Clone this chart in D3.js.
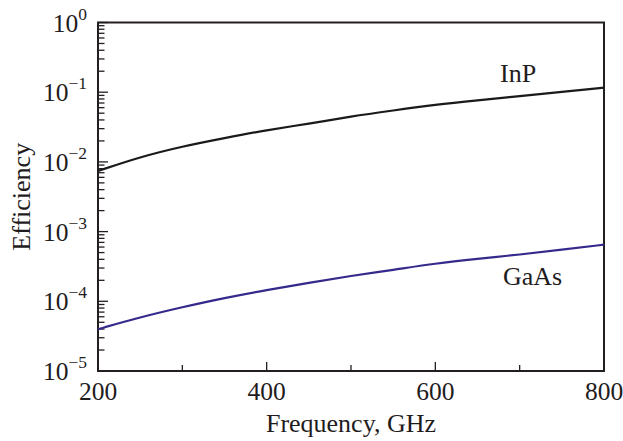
<!DOCTYPE html>
<html lang="en">
<head>
<meta charset="UTF-8">
<title>Efficiency vs Frequency</title>
<style>
  body { margin: 0; background: #fff; }
  text { font-family: "Liberation Serif", "Times New Roman", serif; fill: #1f1c1d; }
</style>
</head>
<body>
<svg id="chart" width="623" height="441"></svg>
<script src="https://cdnjs.cloudflare.com/ajax/libs/d3/7.8.5/d3.min.js"></script>
<script>
// data
const freq = [200, 250, 300, 350, 400, 450, 500, 550, 600, 650, 700, 750, 800];
const inp  = [7.4e-3, 1.18e-2, 1.67e-2, 2.2e-2, 2.86e-2, 3.53e-2, 4.49e-2, 5.46e-2, 6.62e-2, 7.66e-2, 8.79e-2, 1.01e-1, 1.16e-1];
const gaas = [3.98e-5, 5.92e-5, 8.24e-5, 1.12e-4, 1.45e-4, 1.84e-4, 2.32e-4, 2.82e-4, 3.49e-4, 4.07e-4, 4.68e-4, 5.5e-4, 6.49e-4];
const xTicks = [200, 400, 600, 800];
const xMinor = [300, 500, 700];
const yDecades = [0, -1, -2, -3, -4, -5];

const svg = d3.select('#chart');
const margin = {left: 98, right: 19, top: 22.5, bottom: 70};
const W = 623, H = 441;

const x = d3.scaleLinear().domain([200, 800]).range([margin.left, W - margin.right]);
const y = d3.scaleLog().domain([1e-5, 1]).range([H - margin.bottom, margin.top]);

const ink = '#231f20';

// inward ticks on the left axis
const g = svg.append('g');
yDecades.forEach(e => {
    for (let m = 1; m <= 9; m++) {
        const v = m * Math.pow(10, e);
        if (e === 0 && m > 1) continue;
        const yy = y(v);
        g.append('line')
            .attr('x1', x(200)).attr('x2', x(200) + (m === 1 ? 10 : 6.5))
            .attr('y1', yy).attr('y2', yy)
            .attr('stroke', ink).attr('stroke-width', 1.3);
    }
});

// inward ticks on the bottom axis
xTicks.concat(xMinor).forEach(t => {
    const major = xTicks.includes(t);
    g.append('line')
        .attr('x1', x(t)).attr('x2', x(t))
        .attr('y1', y(1e-5)).attr('y2', y(1e-5) - (major ? 9 : 6))
        .attr('stroke', ink).attr('stroke-width', 1.3);
});

// frame
svg.append('rect')
    .attr('x', x(200)).attr('y', y(1))
    .attr('width', x(800) - x(200)).attr('height', y(1e-5) - y(1))
    .attr('fill', 'none').attr('stroke', ink).attr('stroke-width', 2);

// curves (smoothed through the read points)
const line = (vals) => d3.line()
    .x((d, i) => x(freq[i]))
    .y(d => y(d))
    .curve(d3.curveBasis)(vals);

svg.append('path').attr('d', line(inp))
    .attr('fill', 'none').attr('stroke', '#1a1a1a').attr('stroke-width', 2.2);
svg.append('path').attr('d', line(gaas))
    .attr('fill', 'none').attr('stroke', '#352a8c').attr('stroke-width', 2.2);

// x tick labels
xTicks.forEach(t => {
    svg.append('text')
        .attr('x', x(t)).attr('y', 400)
        .attr('text-anchor', 'middle')
        .attr('font-size', 25.5)
        .text(t);
});

// y tick labels 10^n
yDecades.forEach(e => {
    const t = svg.append('text')
        .attr('x', 87).attr('y', y(Math.pow(10, e)) + 9)
        .attr('text-anchor', 'end')
        .attr('font-size', 25.5);
    t.append('tspan').text('10');
    t.append('tspan')
        .attr('dy', -12)
        .attr('font-size', 17.5)
        .text(e === 0 ? '0' : '\u2212' + (-e));
});

// axis titles
svg.append('text')
    .attr('x', (x(200) + x(800)) / 2).attr('y', 432)
    .attr('text-anchor', 'middle')
    .attr('font-size', 26)
    .text('Frequency, GHz');

svg.append('text')
    .attr('transform', `translate(30, ${(y(1) + y(1e-5)) / 2}) rotate(-90)`)
    .attr('text-anchor', 'middle')
    .attr('font-size', 26)
    .text('Efficiency');

// series labels
svg.append('text').attr('x', 500).attr('y', 81.5)
    .attr('font-size', 26).text('InP');
svg.append('text').attr('x', 503).attr('y', 285)
    .attr('font-size', 26).text('GaAs');
</script>
</body>
</html>
